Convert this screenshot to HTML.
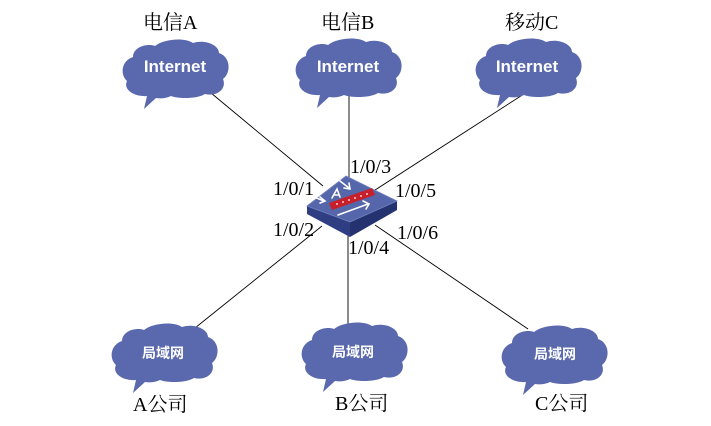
<!DOCTYPE html>
<html>
<head>
<meta charset="utf-8">
<style>
  html, body { margin: 0; padding: 0; background: #ffffff; }
  body { width: 711px; height: 426px; overflow: hidden; }
  svg { display: block; }
  .lbl { font-family: "Liberation Serif", "Noto Serif CJK SC", serif; font-size: 20px; fill: #000; }
  .inet { font-family: "Liberation Sans", sans-serif; font-size: 17px; font-weight: bold; fill: #ffffff; }
  .lan { font-family: "Liberation Sans", "Noto Sans CJK SC", sans-serif; font-size: 14px; font-weight: bold; fill: #ffffff; }
</style>
</head>
<body>
<svg width="711" height="426" viewBox="0 0 711 426" xmlns="http://www.w3.org/2000/svg">
  <defs>
    <path id="cloud" d="M 24,57 C 10,58 0,50 4,42 C -3,36 -2,22 10,18 C 10,8 24,4 32,7 C 40,0 62,-2 70,4 C 82,0 96,6 96,14 C 108,18 108,34 100,40 C 104,50 94,58 82,55 C 74,60 56,60 48,57 C 44,59 38,60 33,59 L 21,70 Z" fill="#5a69ad"/>
  </defs>

  <!-- connectors -->
  <g stroke="#000" stroke-width="0.9" fill="none">
    <line x1="205" y1="88" x2="323" y2="186"/>
    <line x1="349" y1="96" x2="349" y2="180"/>
    <line x1="527" y1="92" x2="372" y2="192"/>
    <line x1="322" y1="226" x2="190" y2="332"/>
    <line x1="348" y1="234" x2="348" y2="324"/>
    <line x1="375" y1="225" x2="528" y2="329"/>
  </g>

  <!-- top clouds -->
  <use href="#cloud" transform="translate(123,39)"/>
  <use href="#cloud" transform="translate(296,38)"/>
  <use href="#cloud" transform="translate(476,38)"/>
  <text class="inet" x="175" y="72" text-anchor="middle">Internet</text>
  <text class="inet" x="348" y="72" text-anchor="middle">Internet</text>
  <text class="inet" x="527" y="72" text-anchor="middle">Internet</text>

  <!-- bottom clouds -->
  <use href="#cloud" transform="translate(112,323)"/>
  <use href="#cloud" transform="translate(302,322)"/>
  <use href="#cloud" transform="translate(502,325)"/>
  <text class="lan" x="163" y="358" text-anchor="middle">局域网</text>
  <text class="lan" x="353" y="357" text-anchor="middle">局域网</text>
  <text class="lan" x="555" y="359" text-anchor="middle">局域网</text>

  <!-- switch -->
  <g>
    <polygon points="307,206 350,222 350,237 307,214" fill="#2f3e82"/>
    <polygon points="350,222 397,201 397,210 350,237" fill="#24326f"/>
    <polygon points="307,206 346,176 397,201 350,222" fill="#5566aa" stroke="#7382c0" stroke-width="0.8"/>
    <!-- red bar -->
    <polygon points="329,203 372,188 375,195 332,210" fill="#c8202a"/>
    <g fill="#ffffff">
      <circle cx="337" cy="204" r="0.9"/>
      <circle cx="343" cy="202" r="0.9"/>
      <circle cx="349" cy="200" r="0.9"/>
      <circle cx="355" cy="198" r="0.9"/>
      <circle cx="361" cy="196" r="0.9"/>
      <circle cx="367" cy="194" r="0.9"/>
    </g>
    <!-- white arrows -->
    <g stroke="#ffffff" stroke-width="1.6" fill="none" stroke-linecap="round">
      <line x1="314" y1="197" x2="324" y2="201"/>
      <polyline points="320,197 325,201 320,203"/>
      <line x1="340" y1="181" x2="349" y2="188"/>
      <polyline points="344,188 350,189 349,183"/>
      <polyline points="332,198 337,189 340,197"/>
      <line x1="334" y1="195" x2="339" y2="195"/>
      <line x1="338" y1="215" x2="368" y2="204"/>
      <polyline points="363,201 369,204 366,209"/>
    </g>
  </g>

  <!-- top labels -->
  <text class="lbl" x="143" y="29">电信A</text>
  <text class="lbl" x="321" y="29">电信B</text>
  <text class="lbl" x="505" y="29">移动C</text>

  <!-- bottom labels -->
  <text class="lbl" x="133" y="411">A公司</text>
  <text class="lbl" x="335" y="410">B公司</text>
  <text class="lbl" x="535" y="410">C公司</text>

  <!-- port labels -->
  <text class="lbl" x="273" y="195">1/0/1</text>
  <text class="lbl" x="350" y="173">1/0/3</text>
  <text class="lbl" x="395" y="197">1/0/5</text>
  <text class="lbl" x="273" y="236">1/0/2</text>
  <text class="lbl" x="348" y="254">1/0/4</text>
  <text class="lbl" x="397" y="239">1/0/6</text>
</svg>
</body>
</html>
